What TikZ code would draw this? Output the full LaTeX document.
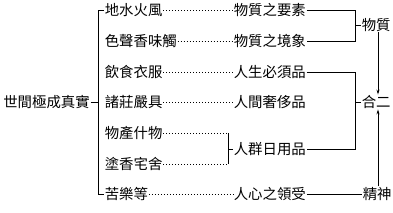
\documentclass[tikz,border=0pt]{standalone}
\usepackage{fontspec}
\newfontfamily\cjk{Noto Sans CJK TC}
\usetikzlibrary{arrows.meta}
\begin{document}
\begin{tikzpicture}[x=1pt,y=-1pt,
  txt/.style={anchor=west,inner sep=0.6pt,font=\cjk\fontsize{14.4}{15}\selectfont},
  dotline/.style={line width=0.9pt,dash pattern=on 0.9pt off 2.1pt},
  conn/.style={line width=0.8pt},
  arr/.style={conn,-{Stealth[length=5pt,width=3pt]}}]
\useasboundingbox (0,0) rectangle (393,213);
\coordinate (lb) at (98,0);
\coordinate (cb) at (228,0);
\coordinate (rb) at (355,0);
\coordinate (hx) at (378,0);
% root
\node[txt] (root) at (2.5,102) {世間極成真實};
% column 1
\node[txt] (a1) at (104,10) {地水火風};
\node[txt] (a2) at (104,41) {色聲香味觸};
\node[txt] (a3) at (104,72) {飲食衣服};
\node[txt] (a4) at (104,102) {諸莊嚴具};
\node[txt] (a5) at (104,133) {物產什物};
\node[txt] (a6) at (104,164) {塗香宅舍};
\node[txt] (a7) at (104,194) {苦樂等};
% column 2
\node[txt] (b1) at (233,10) {物質之要素};
\node[txt] (b2) at (233,41) {物質之境象};
\node[txt] (b3) at (233,72) {人生必須品};
\node[txt] (b4) at (233,102) {人間奢侈品};
\node[txt] (b56) at (233,149) {人群日用品};
\node[txt] (b7) at (233,194) {人心之領受};
% right
\node[txt] (wz) at (361,25) {物質};
\node[txt] (he) at (361,102) {合二};
\node[txt] (js) at (362,194) {精神};
% left bracket
\draw[conn] (root.east) -- (root.east -| lb);
\draw[conn] (a1.west) -| (lb |- a7.west) -- (a7.west);
% dotted lines
\draw[dotline] (a1.east) -- (b1.west);
\draw[dotline] (a2.east) -- (b2.west);
\draw[dotline] (a3.east) -- (b3.west);
\draw[dotline] (a4.east) -- (b4.west);
\draw[dotline] (a7.east) -- (b7.west);
\draw[dotline] (a5.east) -- (cb |- a5.east);
\draw[dotline] (a6.east) -- (cb |- a6.east);
\draw[conn] (cb |- a5.east) -- (cb |- a6.east);
\draw[conn] (cb |- b56.west) -- (b56.west);
% right brackets
\draw[conn] (b1.east) -| (rb |- b2.east) -- (b2.east);
\draw[conn] (rb |- wz.west) -- (wz.west);
\draw[conn] (b3.east) -| (rb |- b56.east) -- (b56.east);
\draw[conn] (rb |- he.west) -- (he.west);
\draw[conn] (b7.east) -- (js.west);
% arrows
\draw[arr] (hx |- wz.south) -- (hx |- he.north);
\draw[arr] (hx |- js.north) -- (hx |- he.south);
\end{tikzpicture}
\end{document}
